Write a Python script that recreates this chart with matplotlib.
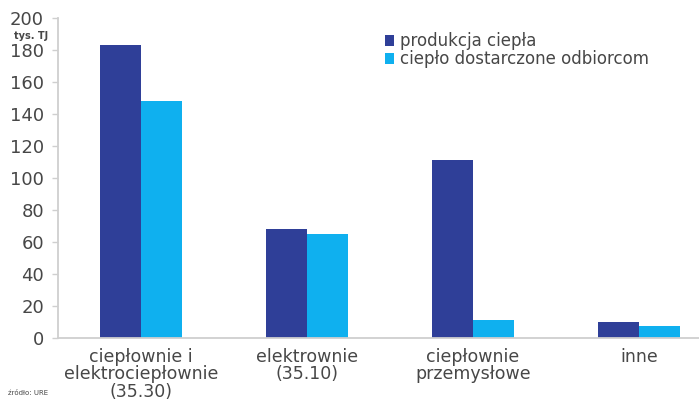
import matplotlib
matplotlib.use("Agg")
import matplotlib.pyplot as plt
from matplotlib.patches import Patch
import numpy as np

categories = ["ciepłownie i\nelektrociepłownie\n(35.30)",
              "elektrownie\n(35.10)",
              "ciepłownie\nprzemysłowe",
              "inne"]
produkcja = [183, 68, 111, 10]
dostarczone = [148, 65, 11, 7.5]
series_names = ["produkcja ciepła", "ciepło dostarczone odbiorcom"]
yticks = [0, 20, 40, 60, 80, 100, 120, 140, 160, 180, 200]

dark = "#2f3f98"
light = "#0fb0ef"
text_col = "#474747"
axis_col = "#cfcfcf"

plt.rcParams["font.family"] = ["DejaVu Sans"]

fig = plt.figure(figsize=(6.99, 4.05), dpi=100)
ax = fig.add_axes([58 / 699, 67 / 405, 664 / 699, 320 / 405])

x = np.arange(len(categories))
w = 0.245
ax.bar(x - w / 2, produkcja, width=w, color=dark, zorder=2)
ax.bar(x + w / 2, dostarczone, width=w, color=light, zorder=2)

ax.set_xlim(-0.5, 3.5)
ax.set_ylim(0, 200)
ax.set_yticks(yticks)
ax.set_yticklabels([str(v) for v in yticks])
ax.set_xticks(x)
ax.set_xticklabels(categories, linespacing=0.97)

for s in ["top", "right"]:
    ax.spines[s].set_visible(False)
ax.spines["left"].set_color(axis_col)
ax.spines["left"].set_linewidth(1.3)
ax.spines["bottom"].set_color(axis_col)
ax.spines["bottom"].set_linewidth(1.3)

ax.tick_params(axis="y", length=4, width=1, color=axis_col, pad=6,
               labelsize=13, labelcolor=text_col)
ax.tick_params(axis="x", length=0, pad=7, labelsize=12.5, labelcolor=text_col)

fig.text(14 / 699, 1 - 36 / 405, "tys. TJ", fontsize=7, color=text_col,
         fontweight="bold", va="center", ha="left")
fig.text(8 / 699, 1 - 393 / 405, "źródło: URE", fontsize=5, color=text_col,
         va="center", ha="left")

handles = [Patch(facecolor=dark), Patch(facecolor=light)]
leg = fig.legend(handles, series_names, loc="upper left",
                 bbox_to_anchor=(385 / 699, 1 - 32 / 405),
                 bbox_transform=fig.transFigure,
                 frameon=False, fontsize=12, handlelength=0.55, handleheight=0.65,
                 handletextpad=0.35, labelspacing=0.0, borderaxespad=0,
                 borderpad=0)
for t in leg.get_texts():
    t.set_color(text_col)

fig.savefig("out.png", dpi=100, facecolor="white")
